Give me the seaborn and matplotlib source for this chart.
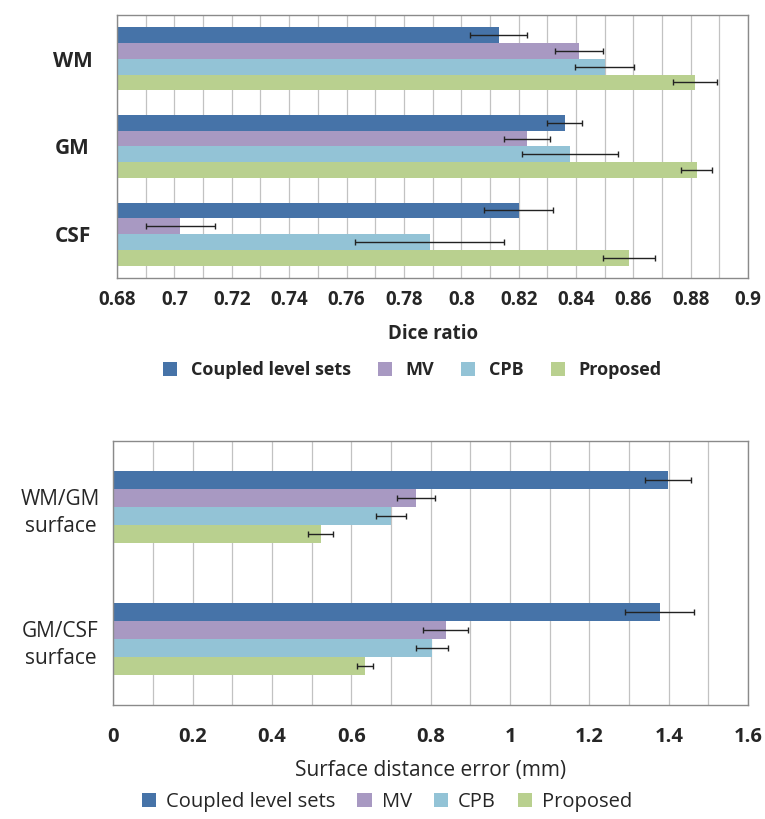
import matplotlib
matplotlib.use("Agg")
import matplotlib.pyplot as plt
import seaborn as sns
import pandas as pd
import numpy as np
from matplotlib.ticker import MultipleLocator
from matplotlib.patches import Patch

methods = ["Coupled level sets", "MV", "CPB", "Proposed"]
colors = ["#4673A8", "#A899C2", "#93C3D6", "#B9D08F"]

# Top chart: Dice ratio
tissues = ["WM", "GM", "CSF"]
dice_cls = [0.813, 0.836, 0.820]
dice_mv = [0.841, 0.823, 0.702]
dice_cpb = [0.850, 0.838, 0.789]
dice_prop = [0.8815, 0.882, 0.8585]
dice_err_cls = [0.010, 0.006, 0.012]
dice_err_mv = [0.0085, 0.008, 0.012]
dice_err_cpb = [0.0103, 0.0167, 0.026]
dice_err_prop = [0.0078, 0.0053, 0.0091]
dice_ticks = [0.68, 0.7, 0.72, 0.74, 0.76, 0.78, 0.8, 0.82, 0.84, 0.86, 0.88, 0.9]

# Bottom chart: surface distance error
surfaces = ["WM/GM\nsurface", "GM/CSF\nsurface"]
sde_cls = [1.398, 1.377]
sde_mv = [0.763, 0.838]
sde_cpb = [0.700, 0.803]
sde_prop = [0.523, 0.635]
sde_err_cls = [0.057, 0.087]
sde_err_mv = [0.049, 0.057]
sde_err_cpb = [0.038, 0.040]
sde_err_prop = [0.031, 0.020]
sde_ticks = [0, 0.2, 0.4, 0.6, 0.8, 1, 1.2, 1.4, 1.6]

FONT = "Open Sans"
sns.set_theme(style="white")
plt.rcParams["font.family"] = [FONT, "DejaVu Sans"]


def build(cats, vals, errs):
    rows = []
    for m, v, e in zip(methods, vals, errs):
        for c, vv, ee in zip(cats, v, e):
            rows.append({"cat": c, "method": m, "value": vv, "err": ee})
    return pd.DataFrame(rows)


def draw(ax, df, cats, width, ticks, minor, catsize, catweight, ticksize,
         tickweight, ticklen, tickpad, catpad):
    sns.barplot(data=df, y="cat", x="value", hue="method", order=cats,
                hue_order=methods, palette=colors, orient="h", width=width,
                errorbar=None, ax=ax, legend=False, saturation=1,
                linewidth=0, zorder=2)
    for m, cont in zip(methods, ax.containers):
        sub = df[df.method == m].set_index("cat").loc[cats]
        ys = [p.get_y() + p.get_height() / 2 for p in cont.patches]
        ax.errorbar(sub["value"].values, ys, xerr=sub["err"].values, fmt="none",
                    ecolor="#222222", elinewidth=1.0, capsize=2.5, capthick=1.0,
                    zorder=3)
    ax.set_ylim(len(cats) - 0.5, -0.5)
    ax.set_xlim(ticks[0], ticks[-1])
    ax.set_xticks(ticks)
    ax.set_xticklabels([f"{v:g}" for v in ticks], fontsize=ticksize,
                       fontweight=tickweight)
    ax.xaxis.set_minor_locator(MultipleLocator(minor))
    ax.grid(True, which="both", axis="x", color="#c2c2c2", linewidth=0.9, zorder=0)
    ax.grid(False, axis="y")
    ax.set_axisbelow(True)
    for s in ax.spines.values():
        s.set_color("#8a8a8a")
        s.set_linewidth(1.0)
        s.set_visible(True)
    ax.tick_params(axis="x", which="major", direction="out", length=ticklen,
                   color="#8a8a8a", width=1, pad=tickpad)
    ax.tick_params(axis="x", which="minor", length=0)
    ax.tick_params(axis="y", length=0, pad=catpad)
    for t in ax.get_yticklabels():
        t.set_fontweight(catweight)
        t.set_fontsize(catsize)
        t.set_ha("center")
        t.set_linespacing(1.4)
    ax.set_ylabel("")


fig = plt.figure(figsize=(7.65, 8.19), dpi=100)

ax1 = fig.add_axes([0.153, 0.6606, 0.825, 0.3211])
df1 = build(tissues, [dice_cls, dice_mv, dice_cpb, dice_prop],
            [dice_err_cls, dice_err_mv, dice_err_cpb, dice_err_prop])
draw(ax1, df1, tissues, 0.72, dice_ticks, 0.01, 15, "bold", 13.5, "bold",
     4.3, 4.5, 32)
ax1.set_xlabel("Dice ratio", fontsize=13.5, fontweight="bold", labelpad=10)

ax2 = fig.add_axes([0.148, 0.1392, 0.830, 0.3223])
df2 = build(surfaces, [sde_cls, sde_mv, sde_cpb, sde_prop],
            [sde_err_cls, sde_err_mv, sde_err_cpb, sde_err_prop])
draw(ax2, df2, surfaces, 0.545, sde_ticks, 0.1, 15, "normal", 14.5, "bold",
     5, 11, 38)
ax2.set_xlabel("Surface distance error (mm)", fontsize=15, fontweight="normal",
               labelpad=9)

handles = [Patch(facecolor=c, edgecolor="none") for c in colors]
fig.legend(handles, methods, loc="center", bbox_to_anchor=(0.539, 0.548), ncol=4,
           frameon=False, handlelength=0.78, handleheight=0.78, handletextpad=0.75,
           columnspacing=1.5, prop={"family": FONT, "size": 13, "weight": "bold"})
fig.legend(handles, methods, loc="center", bbox_to_anchor=(0.506, 0.021), ncol=4,
           frameon=False, handlelength=0.7, handleheight=0.7, handletextpad=0.5,
           columnspacing=1.1, prop={"family": FONT, "size": 14.5, "weight": "normal"})

fig.savefig("out.png", dpi=100, facecolor="white")
